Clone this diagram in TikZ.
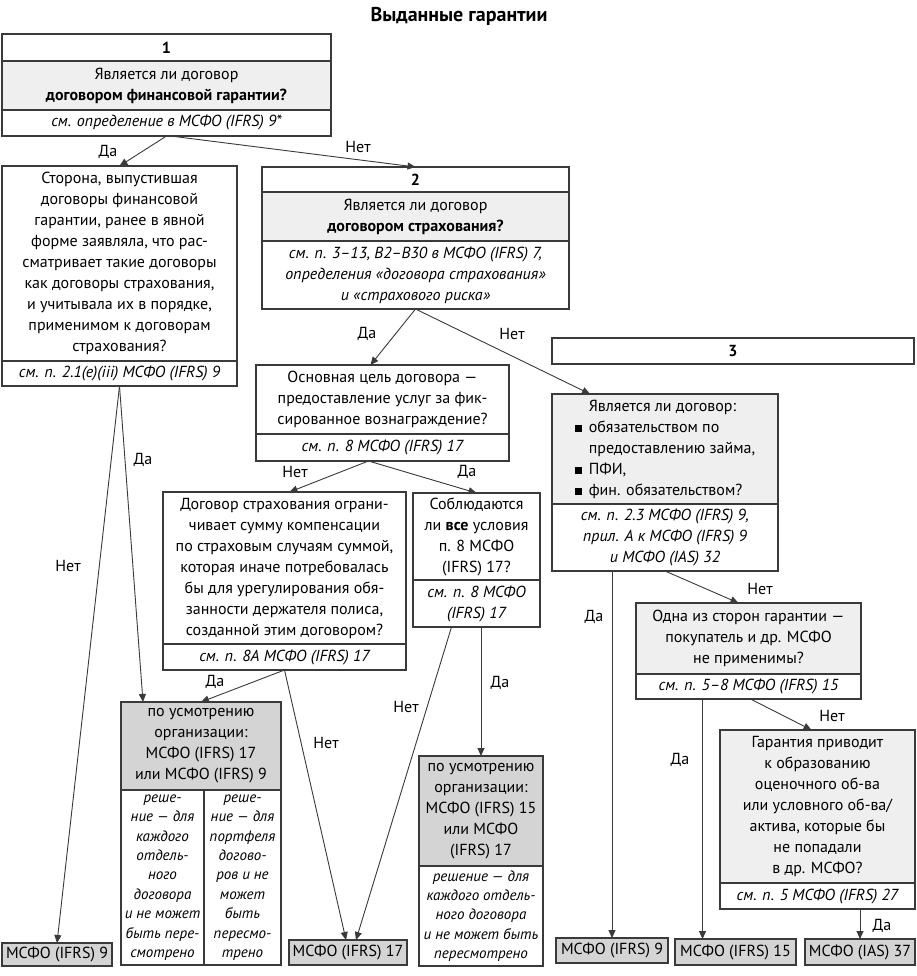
\documentclass[tikz,border=0pt]{standalone}
\usepackage{fontspec}
\setmainfont{PT Sans}
\usetikzlibrary{positioning,arrows.meta}

\definecolor{ink}{HTML}{3A3A3A}
\definecolor{qgray}{HTML}{EFEFEF}
\definecolor{rgray}{HTML}{D4D4D4}
\newcommand\boxfont{\fontsize{16}{21}\selectfont}
\newcommand\notefont{\fontsize{15}{19.4}\selectfont\itshape}
\newcommand\bul{\rule{7pt}{7pt}\hspace{7pt}}

\begin{document}
\begin{tikzpicture}[x=1pt,y=-1pt,
  part/.style={draw=ink,line width=1.1pt,outer sep=0pt,inner sep=2pt,align=center,font=\boxfont},
  head/.style={part,font=\boxfont\bfseries},
  quest/.style={part,fill=qgray},
  cite/.style={part,font=\boxfont\itshape},
  note/.style={part,font=\notefont},
  pick/.style={part,fill=rgray},
  std/.style={part,fill=rgray,inner sep=1pt},
  arr/.style={draw=ink,line width=0.9pt,-{Triangle[length=8pt,width=7pt]}},
  lbl/.style={font=\boxfont,inner sep=1pt}]
   \useasboundingbox[fill=white] (0,0) rectangle (917,976);
   \node[font=\fontsize{20}{24}\selectfont\bfseries] (title) at (459,16) {Выданные гарантии};

   % 1
   \node[head,minimum width=329,minimum height=27,anchor=north west] (b1h) at (2,34) {1};
   \node[quest,minimum width=329,minimum height=49,below=0pt of b1h] (b1q)
     {Является ли договор\\\textbf{договором финансовой гарантии?}};
   \node[cite,minimum width=329,minimum height=26,below=0pt of b1q] (b1r)
     {см. определение в МСФО (IFRS) 9*};

   % prior statement
   \node[part,minimum width=235,minimum height=195,anchor=north west] (past) at (2,166)
     {Сторона, выпустившая\\договоры финансовой\\гарантии, ранее в явной\\форме заявляла, что рас-\\сматривает такие договоры\\как договоры страхования,\\и учитывала их в порядке,\\применимом к договорам\\страхования?};
   \node[cite,minimum width=235,minimum height=25,below=0pt of past] (pastr)
     {см. п. 2.1(e)(iii) МСФО (IFRS) 9};

   % 2
   \node[head,minimum width=307,minimum height=25,anchor=north west] (b2h) at (262,167) {2};
   \node[quest,minimum width=307,minimum height=49,below=0pt of b2h] (b2q)
     {Является ли договор\\\textbf{договором страхования?}};
   \node[cite,minimum width=307,minimum height=68,below=0pt of b2q] (b2r)
     {см. п. 3–13, B2–B30 в МСФО (IFRS) 7,\\определения «договора страхования»\\и «страхового риска»};

   % services
   \node[part,minimum width=253,minimum height=69,anchor=north west] (svc) at (256,365)
     {Основная цель договора —\\предоставление услуг за фик-\\сированное вознаграждение?};
   \node[cite,minimum width=253,minimum height=27,below=0pt of svc] (svcr)
     {см. п. 8 МСФО (IFRS) 17};

   % limit
   \node[part,minimum width=243,minimum height=152,anchor=north west] (lim) at (163,492)
     {Договор страхования ограни-\\чивает сумму компенсации\\по страховым случаям суммой,\\которая иначе потребовалась\\бы для урегулирования обя-\\занности держателя полиса,\\созданной этим договором?};
   \node[cite,minimum width=243,minimum height=26,below=0pt of lim] (limr)
     {см. п. 8A МСФО (IFRS) 17};

   % all conditions
   \node[part,minimum width=127,minimum height=87,anchor=north west] (cond) at (413,493)
     {Соблюдаются\\ли \textbf{все} условия\\п. 8 МСФО\\(IFRS) 17?};
   \node[cite,minimum width=127,minimum height=47,below=0pt of cond] (condr)
     {см. п. 8 МСФО\\(IFRS) 17};

   % 3
   \node[head,minimum width=362,minimum height=26,anchor=north west] (b3h) at (552,338) {3};
   \node[quest,minimum width=226,minimum height=110,anchor=north west,align=left] (b3q) at (552,394)
     {\hspace*{14pt}Является ли договор:\\\bul обязательством по\\\hspace*{14pt}предоставлению займа,\\\bul ПФИ,\\\bul фин. обязательством?};
   \node[cite,minimum width=226,minimum height=67,below=0pt of b3q] (b3r)
     {см. п. 2.3 МСФО (IFRS) 9,\\прил. A к МСФО (IFRS) 9\\и МСФО (IAS) 32};

   % buyer
   \node[quest,minimum width=225,minimum height=71,anchor=north west] (buy) at (636,603)
     {Одна из сторон гарантии —\\покупатель и др. МСФО\\не применимы?};
   \node[cite,minimum width=225,minimum height=25,below=0pt of buy] (buyr)
     {см. п. 5–8 МСФО (IFRS) 15};

   % provision
   \node[quest,minimum width=195,minimum height=153,anchor=north west] (prov) at (720,730)
     {Гарантия приводит\\к образованию\\оценочного об-ва\\или условного об-ва/\\актива, которые бы\\не попадали\\в др. МСФО?};
   \node[cite,minimum width=195,minimum height=26,below=0pt of prov] (provr)
     {см. п. 5 МСФО (IFRS) 27};

   % choice 17 / 9
   \node[pick,minimum width=160,minimum height=88,anchor=north west] (opt1) at (121,702)
     {по усмотрению\\организации:\\МСФО (IFRS) 17\\или МСФО (IFRS) 9};
   \node[note,minimum width=83,minimum height=175,anchor=north west] (opt1a) at (opt1.south west)
     {реше-\\ние — для\\каждого\\отдель-\\ного\\договора\\и не может\\быть пере-\\смотрено};
   \node[note,minimum width=77,minimum height=175,anchor=north west] (opt1b) at (opt1a.north east)
     {реше-\\ние — для\\портфеля\\догово-\\ров и не\\может\\быть\\пересмо-\\трено};

   % choice 15 / 17
   \node[pick,minimum width=124,minimum height=110,anchor=north west] (opt2) at (419,756)
     {по усмотрению\\организации:\\МСФО (IFRS) 15\\или МСФО\\(IFRS) 17};
   \node[note,minimum width=124,minimum height=100,below=0pt of opt2] (opt2n)
     {решение — для\\каждого отдель-\\ного договора\\и не может быть\\пересмотрено};

   % outcomes
   \node[std,minimum width=110,minimum height=23,anchor=north west] (ifrs9a) at (2,943) {МСФО (IFRS) 9};
   \node[std,minimum width=118,minimum height=25,anchor=north west] (ifrs17) at (289,940) {МСФО (IFRS) 17};
   \node[std,minimum width=112,minimum height=25,anchor=north west] (ifrs9b) at (556,938) {МСФО (IFRS) 9};
   \node[std,minimum width=121,minimum height=26,anchor=north west] (ifrs15) at (675,939) {МСФО (IFRS) 15};
   \node[std,minimum width=110,minimum height=26,anchor=north west] (ias37) at (805,939) {МСФО (IAS) 37};

   % connectors
   \draw[arr] (b1r.south) -- (past.north);
   \draw[arr] ([xshift=4]b1r.south) -- (b2h.north);
   \draw[arr] (b2r.south) -- ([xshift=-12]svc.north);
   \draw[arr] (b2r.south) -- ([xshift=-75]b3q.north);
   \draw[arr] (pastr.south) -- ([xshift=-58]opt1.north);
   \draw[arr] (pastr.south) -- (ifrs9a.north);
   \draw[arr] ([xshift=-14]svcr.south) -- ([xshift=5]lim.north);
   \draw[arr] ([xshift=-14]svcr.south) -- (cond.north);
   \draw[arr] (limr.south) -- (opt1.north);
   \draw[arr] (limr.south) -- ([xshift=-2]ifrs17.north);
   \draw[arr] ([xshift=-25]condr.south) -- ([xshift=8]ifrs17.north);
   \draw[arr] (condr.south -| opt2.north) -- (opt2.north);
   \draw[arr] (b3r.south -| ifrs9b.north) -- (ifrs9b.north);
   \draw[arr] (b3r.south) -- ([xshift=-10]buy.north);
   \coordinate (c15) at ([xshift=-33]ifrs15.north);
   \draw[arr] (buyr.south -| c15) -- (c15);
   \draw[arr] ([xshift=2]buyr.south) -- ([xshift=-6]prov.north);
   \draw[arr] (provr.south -| ias37.north) -- (ias37.north);

   % answers
   \node[lbl] (a1) at (108,152) {Да};
   \node[lbl] (a2) at (358,147) {Нет};
   \node[lbl] (a3) at (367,334) {Да};
   \node[lbl] (a4) at (512,334) {Нет};
   \node[lbl] (a5) at (143,460) {Да};
   \node[lbl] (a6) at (68,566) {Нет};
   \node[lbl] (a7) at (295,472) {Нет};
   \node[lbl] (a8) at (467,472) {Да};
   \node[lbl] (a9) at (215,682) {Да};
   \node[lbl] (a10) at (326,743) {Нет};
   \node[lbl] (a11) at (406,707) {Нет};
   \node[lbl] (a12) at (500,683) {Да};
   \node[lbl] (a13) at (594,617) {Да};
   \node[lbl] (a14) at (760,589) {Нет};
   \node[lbl] (a15) at (680,760) {Да};
   \node[lbl] (a16) at (832,716) {Нет};
   \node[lbl] (a17) at (882,926) {Да};
  \end{tikzpicture}
\end{document}
